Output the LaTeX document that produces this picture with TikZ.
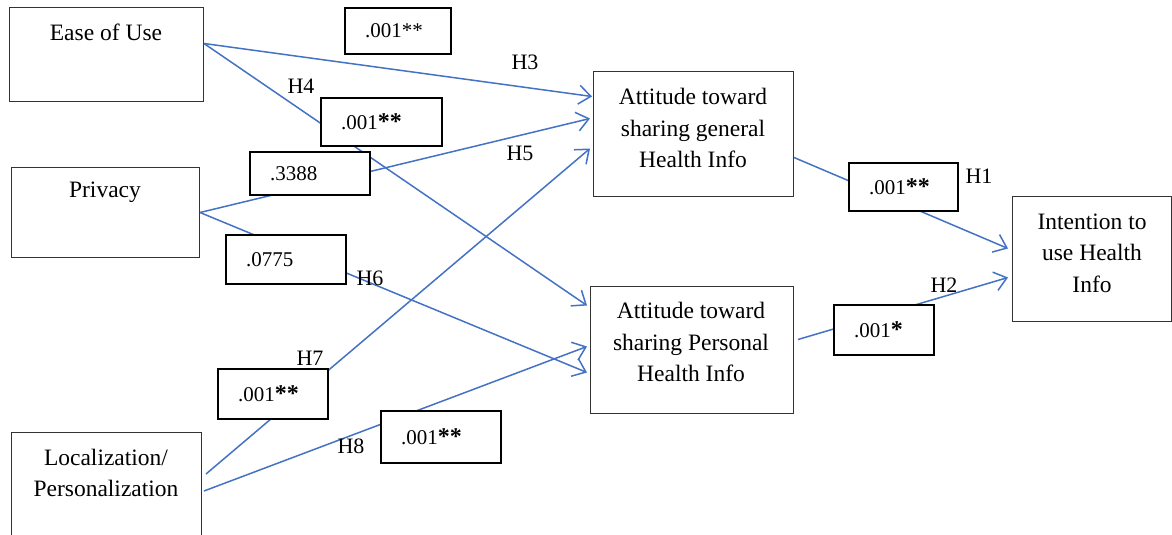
\documentclass[tikz,border=0pt]{standalone}
\usepackage{fontspec}
\setmainfont{Liberation Serif}
\usetikzlibrary{arrows.meta}
\definecolor{lnblue}{RGB}{68,114,196}
\newcommand{\stars}[1]{\raisebox{0pt}{\fontsize{24}{24}\selectfont\bfseries #1}}
\begin{document}
\begin{tikzpicture}[x=1pt,y=-1pt,
  mainbox/.style={draw=black!80, line width=1pt, fill=white, anchor=north west, inner sep=0pt},
  lbl/.style={font=\fontsize{23.5}{31.5}\selectfont, align=center, inner sep=0pt},
  valbox/.style={draw=black, line width=2pt, fill=white, anchor=north west, inner xsep=20pt, inner ysep=0pt, align=left, font=\fontsize{21}{25}\selectfont},
  hyp/.style={font=\fontsize{22}{26}\selectfont, inner sep=0pt},
  conn/.style={draw=lnblue, line width=1.5pt, -{Straight Barb[length=12pt,width=19pt]}}
]
\useasboundingbox (0,0) rectangle (1172,535);
\clip (0,0) rectangle (1172,535);
\fill[white] (0,0) rectangle (1172,535);

% main boxes
\node[mainbox, minimum width=194pt, minimum height=94pt] (ease) at (9,7) {};
\node[mainbox, minimum width=188pt, minimum height=90pt] (priv) at (11,167) {};
\node[mainbox, minimum width=190pt, minimum height=108pt] (loc) at (11,432) {};
\node[mainbox, minimum width=200pt, minimum height=125pt] (gen) at (593,71) {};
\node[mainbox, minimum width=203pt, minimum height=127pt] (pers) at (590,286) {};
\node[mainbox, minimum width=159pt, minimum height=125pt] (intent) at (1012,196) {};

\node[lbl] (easeT) at (106,32) {Ease of Use};
\node[lbl] (privT) at (105,192) {Privacy};
\node[lbl] (locT) at (106,473) {Localization/\\Personalization};
\node[lbl] (genT) at (693,128) {Attitude toward\\sharing general\\Health Info};
\node[lbl] (persT) at (691,342) {Attitude toward\\sharing Personal\\Health Info};
\node[lbl] (intT) at (1092,253) {Intention to\\use Health\\Info};

% connectors
\draw[conn] ([yshift=11pt]ease.east) -- ([xshift=-1pt,yshift=37.5pt]gen.west);
\draw[conn] ([yshift=11pt]ease.east) -- ([xshift=-3pt,yshift=44.5pt]pers.west);
\draw[conn] (priv.east) -- ([xshift=-3pt,yshift=15.5pt]gen.west);
\draw[conn] (priv.east) -- ([xshift=-3pt,yshift=-22.5pt]pers.west);
\draw[conn] ([xshift=4pt,yshift=12.5pt]loc.east) -- ([xshift=-3pt,yshift=-14.5pt]gen.west);
\draw[conn] ([xshift=2pt,yshift=-4.5pt]loc.east) -- ([xshift=-3pt,yshift=3.5pt]pers.west);
\draw[conn] ([yshift=-23.5pt]gen.east) -- ([xshift=-4pt,yshift=10.5pt]intent.west);
\draw[conn] ([xshift=4pt,yshift=10.5pt]pers.east) -- ([xshift=-4pt,yshift=-18.5pt]intent.west);

% value boxes
\node[valbox, minimum height=46pt, text width=66pt] (v3) at (344,7) {.001**};
\node[valbox, minimum height=48pt, text width=81pt] (v4) at (320,97) {.001\stars{**}};
\node[valbox, minimum height=43pt, text width=80pt] (v5) at (249,151) {.3388};
\node[valbox, minimum height=49pt, text width=80pt] (v6) at (225,234) {.0775};
\node[valbox, minimum height=50pt, text width=70pt] (v7) at (217,368) {.001\stars{**}};
\node[valbox, minimum height=52pt, text width=80pt] (v8) at (380,410) {.001\stars{**}};
\node[valbox, minimum height=48pt, text width=69pt] (v1) at (848,162) {.001\stars{**}};
\node[valbox, minimum height=50pt, text width=60pt] (v2) at (833,304) {.001\stars{*}};

% hypothesis labels
\node[hyp] (h3) at (525,62) {H3};
\node[hyp] (h4) at (301,86) {H4};
\node[hyp] (h5) at (520,153) {H5};
\node[hyp] (h6) at (370,278) {H6};
\node[hyp] (h7) at (310,358) {H7};
\node[hyp] (h8) at (351,446) {H8};
\node[hyp] (h1) at (979,176) {H1};
\node[hyp] (h2) at (944,285) {H2};
\end{tikzpicture}
\end{document}
